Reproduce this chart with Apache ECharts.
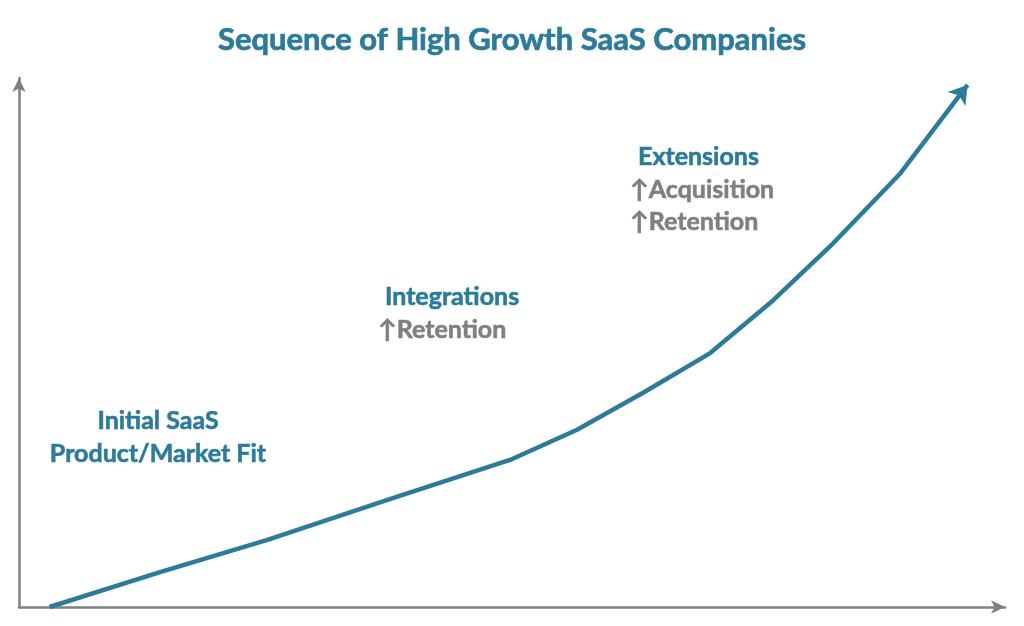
<!DOCTYPE html>
<html>
<head>
<meta charset="utf-8">
<script src="https://cdn.jsdelivr.net/npm/echarts@6/dist/echarts.min.js"></script>
<style>html,body{margin:0;padding:0;background:#fff}#c{width:1024px;height:626px}</style>
</head>
<body>
<div id="c"></div>
<script>
// Curve (arbitrary units 0-100 on both axes)
var xValues = [3.1, 14.3, 25.2, 37.6, 49.8, 56.6, 63.3, 70.1, 76.5, 82.6, 89.4, 96.2];
var yValues = [0, 6.6, 12.7, 20.4, 27.8, 33.5, 40.5, 48.0, 58.0, 68.8, 82.0, 98.7];
var titleText = 'Sequence of High Growth SaaS Companies';
var stage1 = ['Initial SaaS', 'Product/Market Fit'];
var stage2 = ['Integrations', 'Retention'];
var stage3 = ['Extensions', 'Acquisition', 'Retention'];

var TEAL = '#2C7B9B';
var GRAY = '#808080';
var FONT = 'Lato';

var chart = echarts.init(document.getElementById('c'));
var data = xValues.map(function (x, i) { return [x, yValues[i]]; });
var last = data.length - 1;

function txt(text, x, y, color, size, align) {
  return {
    type: 'text', x: x, y: y,
    style: {
      text: text, fill: color, stroke: color, lineWidth: 0.6,
      font: 'bold ' + size + 'px ' + FONT, textAlign: align || 'left', textVerticalAlign: 'middle'
    }
  };
}

chart.setOption({
  animation: false,
  title: {
    text: titleText, left: 'center', top: 19,
    textStyle: { color: TEAL, fontFamily: FONT, fontWeight: 'bold', fontSize: 31, textBorderColor: TEAL, textBorderWidth: 0.7 }
  },
  grid: { left: 19, right: 19, top: 78, bottom: 19 },
  xAxis: {
    type: 'value', min: 0, max: 100,
    axisLine: { show: true, lineStyle: { color: GRAY, width: 2.5 }, symbol: ['none', 'arrow'], symbolSize: [10, 14] },
    axisTick: { show: false }, axisLabel: { show: false }, splitLine: { show: false }
  },
  yAxis: {
    type: 'value', min: 0, max: 100,
    axisLine: { show: true, lineStyle: { color: GRAY, width: 2.5 }, symbol: ['none', 'arrow'], symbolSize: [10, 14] },
    axisTick: { show: false }, axisLabel: { show: false }, splitLine: { show: false }
  },
  series: [{
    type: 'line',
    data: data,
    smooth: false,
    lineStyle: { color: TEAL, width: 4.5, join: 'round' },
    itemStyle: { color: TEAL },
    symbol: function (v, p) { return p.dataIndex === last ? 'arrow' : 'none'; },
    symbolSize: [17, 18],
    symbolRotate: -38,
    showSymbol: true
  }],
  graphic: [
    txt(stage1[0], 158, 421, TEAL, 25, 'center'),
    txt(stage1[1], 158, 454, TEAL, 25, 'center'),
    txt(stage2[0], 385, 297, TEAL, 25),
    txt('\u2191' + stage2[1], 378, 330, GRAY, 25),
    txt(stage3[0], 638, 157, TEAL, 25),
    txt('\u2191' + stage3[1], 630, 190, GRAY, 25),
    txt('\u2191' + stage3[2], 630, 222, GRAY, 25)
  ]
});
</script>
</body>
</html>
